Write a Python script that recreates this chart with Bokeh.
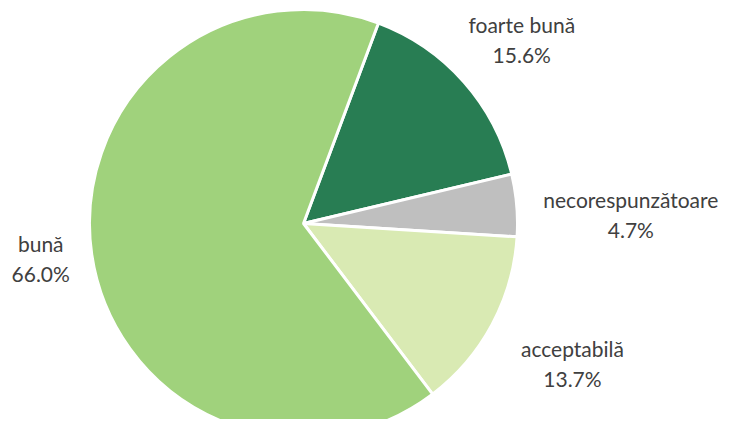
import math
from bokeh.plotting import figure
from bokeh.models import ColumnDataSource, Range1d
from bokeh.core.properties import value
from bokeh.embed import file_html
from bokeh.resources import INLINE

categories = ["foarte bună", "necorespunzătoare", "acceptabilă", "bună"]
percents = [15.6, 4.7, 13.7, 66.0]
colors = ["#287D53", "#BFBFBF", "#D9EAB3", "#A0D27C"]
label_radius = [1.33, 1.53, 1.42, 1.24]
label_angle_shift = [1.5, 3.5, -0.5, 0.3]

first_slice_angle = 20.5  # degrees clockwise from 12 o'clock
cx, cy, r = 303, 212, 214

W, H = 719, 419
p = figure(width=W, height=H, x_range=Range1d(0, W), y_range=Range1d(435 - H, 435),
           output_backend="svg", toolbar_location=None, min_border=0)
p.axis.visible = False
p.grid.visible = False
p.outline_line_color = None
p.background_fill_color = "white"

starts, ends, lx, ly, l1, l2 = [], [], [], [], [], []
acc = first_slice_angle
for i, pct in enumerate(percents):
    a0 = acc
    a1 = acc + pct * 3.6
    acc = a1
    starts.append(math.radians(90 - a0))
    ends.append(math.radians(90 - a1))
    mid = math.radians((a0 + a1) / 2 + label_angle_shift[i])
    x = cx + r * label_radius[i] * math.sin(mid)
    y = cy + r * label_radius[i] * math.cos(mid)
    lx.append(x)
    ly.append(y)
    l1.append(categories[i])
    l2.append(f"{pct:.1f}%")

src = ColumnDataSource(dict(start=starts, end=ends, color=colors))
p.wedge(x=cx, y=cy, radius=r, start_angle="start", end_angle="end", direction="clock",
        fill_color="color", line_color="white", line_width=3, source=src)

lsrc = ColumnDataSource(dict(x=lx, y=ly, t1=l1, t2=l2))
p.text(x="x", y="y", text="t1", source=lsrc, text_align="center", text_baseline="bottom",
       y_offset=-4, text_font=value("Lato"), text_font_size="21px", text_color="#404040")
p.text(x="x", y="y", text="t2", source=lsrc, text_align="center", text_baseline="top",
       y_offset=1, text_font=value("Lato"), text_font_size="21px", text_color="#404040")

open("out.html", "w").write(file_html(p, INLINE))
